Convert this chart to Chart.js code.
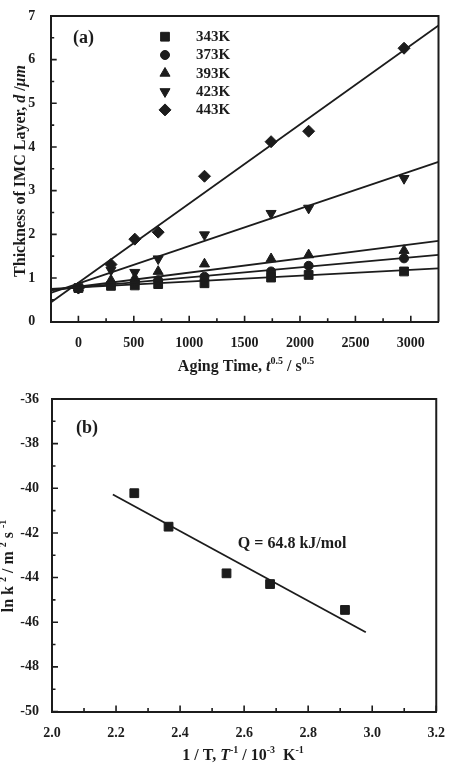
<!DOCTYPE html>
<html lang="en">
<head>
  <meta charset="UTF-8" />
  <title>IMC Layer Growth</title>
  <script src="https://cdn.jsdelivr.net/npm/chart.js"></script>
  <style>
    body {
      margin: 0;
      background: #fff;
    }
    .panel {
      position: absolute;
      left: 0;
      width: 450px;
    }
    #panelA { top: 0; height: 380px; }
    #panelB { top: 380px; height: 384px; }
  </style>
</head>
<body>
  <div class="panel" id="panelA"><canvas id="chartA" width="450" height="380"></canvas></div>
  <div class="panel" id="panelB"><canvas id="chartB" width="450" height="384"></canvas></div>

  <script>
    const INK = '#1c1c1c';
    const SERIF = '"Liberation Serif", "Times New Roman", serif';

    // (a) IMC thickness vs sqrt(aging time)
    const agingTime = [0, 294, 509, 720, 1138, 1739, 2078, 2939];
    const temps = ['343K', '373K', '393K', '423K', '443K'];
    const d343 = [0.77, 0.82, 0.83, 0.86, 0.88, 1.01, 1.07, 1.15];
    const d373 = [0.77, 0.85, 0.88, 0.95, 1.03, 1.15, 1.28, 1.45];
    const d393 = [0.77, 0.95, 1.00, 1.15, 1.32, 1.44, 1.53, 1.63];
    const d423 = [0.77, 1.18, 1.13, 1.44, 1.99, 2.48, 2.60, 3.28];
    const d443 = [0.77, 1.31, 1.89, 2.05, 3.33, 4.12, 4.36, 6.26];

    // fitted lines, read at both ends of the plot
    const fitX = [-250, 3250];
    const fit343 = [0.75, 1.22];
    const fit373 = [0.73, 1.53];
    const fit393 = [0.72, 1.85];
    const fit423 = [0.66, 3.66];
    const fit443 = [0.44, 6.78];

    const xTicksA = [0, 500, 1000, 1500, 2000, 2500, 3000];
    const xMinorA = [250, 750, 1250, 1750, 2250, 2750];
    const yTicksA = [0, 1, 2, 3, 4, 5, 6, 7];
    const yMinorA = [0.5, 1.5, 2.5, 3.5, 4.5, 5.5, 6.5];

    // (b) Arrhenius plot
    const invT = [2.257, 2.364, 2.545, 2.681, 2.915];
    const lnK = [-40.22, -41.72, -43.81, -44.29, -45.45];
    const fitBX = [2.19, 2.98];
    const fitBY = [-40.28, -46.45];

    const xTicksB = [2.0, 2.2, 2.4, 2.6, 2.8, 3.0, 3.2];
    const xMinorB = [2.1, 2.3, 2.5, 2.7, 2.9, 3.1];
    const yTicksB = [-50, -48, -46, -44, -42, -40, -38, -36];
    const yMinorB = [-49, -47, -45, -43, -41, -39, -37];

    const markers = [
      { style: 'rect', r: 6.2, rot: 0 },
      { style: 'circle', r: 4.5, rot: 0 },
      { style: 'triangle', r: 5.8, rot: 0 },
      { style: 'triangle', r: 5.8, rot: 180 },
      { style: 'rectRot', r: 6, rot: 0 }
    ];

    function toPoints(xs, ys) {
      return xs.map((x, i) => ({ x: x, y: ys[i] }));
    }

    function scatterSet(xs, ys, m) {
      return {
        data: toPoints(xs, ys),
        showLine: false,
        pointStyle: m.style,
        pointRadius: m.r,
        pointRotation: m.rot,
        backgroundColor: INK,
        borderColor: INK,
        borderWidth: 1
      };
    }

    function fitSet(xs, ys) {
      return {
        data: toPoints(xs, ys),
        showLine: true,
        pointRadius: 0,
        borderColor: INK,
        borderWidth: 1.8,
        fill: false
      };
    }

    function axis(min, max, ticks, fmt, pad, fit) {
      return {
        type: 'linear',
        min: min,
        max: max,
        grid: { display: false },
        border: { display: true, color: INK, width: 2 },
        afterBuildTicks: s => { s.ticks = ticks.map(v => ({ value: v })); },
        ticks: {
          color: INK,
          font: { family: SERIF, size: 14, weight: 'bold' },
          padding: pad,
          autoSkip: false,
          maxRotation: 0,
          callback: fmt
        },
        afterFit: fit
      };
    }

    // text with italic parts and superscripts, centred on (x, y)
    function rich(ctx, parts, x, y, size, angle) {
      ctx.save();
      ctx.translate(x, y);
      ctx.rotate(angle || 0);
      ctx.fillStyle = INK;
      ctx.textAlign = 'left';
      ctx.textBaseline = 'alphabetic';
      const fontOf = p => (p.i ? 'italic ' : '') + 'bold ' + (p.sup ? Math.round(size * 0.62) : size) + 'px ' + SERIF;
      let total = 0;
      parts.forEach(p => { ctx.font = fontOf(p); p.w = ctx.measureText(p.t).width; total += p.w; });
      let cx = -total / 2;
      parts.forEach(p => {
        ctx.font = fontOf(p);
        ctx.fillText(p.t, cx, p.sup ? -size * 0.42 : 0);
        cx += p.w;
      });
      ctx.restore();
    }

    // top/right frame and inward ticks
    const frame = {
      id: 'frame',
      afterDraw(chart, args, o) {
        const { ctx, chartArea: a } = chart;
        const x = chart.scales.x, y = chart.scales.y;
        ctx.save();
        ctx.strokeStyle = INK;
        ctx.lineWidth = 2;
        ctx.beginPath();
        ctx.moveTo(a.left, a.top);
        ctx.lineTo(a.right, a.top);
        ctx.lineTo(a.right, a.bottom);
        ctx.stroke();
        ctx.lineWidth = 1.6;
        ctx.beginPath();
        o.xMajor.forEach(v => { const p = x.getPixelForValue(v); ctx.moveTo(p, a.bottom); ctx.lineTo(p, a.bottom - 6); });
        o.xMinor.forEach(v => { const p = x.getPixelForValue(v); ctx.moveTo(p, a.bottom); ctx.lineTo(p, a.bottom - 3.5); });
        o.yMajor.forEach(v => { const p = y.getPixelForValue(v); ctx.moveTo(a.left, p); ctx.lineTo(a.left + 6, p); });
        o.yMinor.forEach(v => { const p = y.getPixelForValue(v); ctx.moveTo(a.left, p); ctx.lineTo(a.left + 3.5, p); });
        ctx.stroke();
        ctx.restore();
      }
    };

    function marker(ctx, m, px, py) {
      if (Chart.helpers && Chart.helpers.drawPoint) {
        Chart.helpers.drawPoint(ctx, { pointStyle: m.style, radius: m.r, rotation: m.rot, borderWidth: 1 }, px, py);
      }
    }

    const labelsA = {
      id: 'labelsA',
      afterDraw(chart) {
        const ctx = chart.ctx;
        ctx.save();
        ctx.fillStyle = INK;
        ctx.strokeStyle = INK;
        ctx.textBaseline = 'middle';
        ctx.textAlign = 'left';
        ctx.font = 'bold 18px ' + SERIF;
        ctx.fillText('(a)', 73, 38.5);
        ctx.font = 'bold 15px ' + SERIF;
        temps.forEach((t, i) => {
          const ry = 36.7 + i * 18.3;
          marker(ctx, markers[i], 165, ry);
          ctx.fillText(t, 196, ry + 0.5);
        });
        ctx.restore();
        rich(ctx, [{ t: 'Aging Time, ' }, { t: 't', i: 1 }, { t: '0.5', sup: 1 }, { t: ' / s' }, { t: '0.5', sup: 1 }], 246, 371, 16);
        rich(ctx, [{ t: 'Thickness of IMC Layer, ' }, { t: 'd', i: 1 }, { t: ' /' }, { t: 'μm', i: 1 }], 25, 171, 16, -Math.PI / 2);
      }
    };

    const labelsB = {
      id: 'labelsB',
      afterDraw(chart) {
        const ctx = chart.ctx;
        const x = chart.scales.x, y = chart.scales.y;
        ctx.save();
        ctx.fillStyle = INK;
        ctx.textBaseline = 'middle';
        ctx.textAlign = 'left';
        ctx.font = 'bold 18px ' + SERIF;
        ctx.fillText('(b)', 76, 48);
        ctx.textAlign = 'center';
        ctx.font = 'bold 16px ' + SERIF;
        ctx.fillText('Q = 64.8 kJ/mol', x.getPixelForValue(2.75), y.getPixelForValue(-42.49));
        ctx.restore();
        rich(ctx, [{ t: '1 / T, ' }, { t: 'T', i: 1 }, { t: '-1', sup: 1 }, { t: ' / 10' }, { t: '-3', sup: 1 }, { t: '  K' }, { t: '-1', sup: 1 }], 243, 380, 16);
        rich(ctx, [{ t: 'ln k ' }, { t: '2', sup: 1 }, { t: ' / m ' }, { t: '2', sup: 1 }, { t: ' s ' }, { t: '-1', sup: 1 }], 13, 186, 16, -Math.PI / 2);
      }
    };

    const seriesA = [d343, d373, d393, d423, d443];
    const fitsA = [fit343, fit373, fit393, fit423, fit443];

    const chartA = new Chart(document.getElementById('chartA'), {
      type: 'scatter',
      data: {
        datasets: fitsA.map(f => fitSet(fitX, f)).concat(seriesA.map((s, i) => scatterSet(agingTime, s, markers[i])))
      },
      options: {
        responsive: false,
        animation: false,
        events: [],
        layout: { padding: { left: 0, top: 9.3, right: 11.5, bottom: 0 } },
        scales: {
          x: axis(-250, 3250, xTicksA, v => String(v), 5, s => { s.height = 58.3; }),
          y: axis(0, 7, yTicksA, v => String(v), 7.5, s => { s.width = 50.7; })
        },
        plugins: {
          legend: { display: false },
          tooltip: { enabled: false },
          frame: { xMajor: xTicksA, xMinor: xMinorA, yMajor: yTicksA, yMinor: yMinorA }
        }
      },
      plugins: [frame, labelsA]
    });

    const chartB = new Chart(document.getElementById('chartB'), {
      type: 'scatter',
      data: {
        datasets: [fitSet(fitBX, fitBY), scatterSet(invT, lnK, markers[0])]
      },
      options: {
        responsive: false,
        animation: false,
        events: [],
        layout: { padding: { left: 0, top: 19, right: 10.7, bottom: 0 } },
        scales: {
          x: axis(2.0, 3.2, xTicksB, v => v.toFixed(1), 5, s => { s.height = 52.5; }),
          y: axis(-50, -36, yTicksB, v => String(v), 5, s => { s.width = 52; })
        },
        plugins: {
          legend: { display: false },
          tooltip: { enabled: false },
          frame: { xMajor: xTicksB, xMinor: xMinorB, yMajor: yTicksB, yMinor: yMinorB }
        }
      },
      plugins: [frame, labelsB]
    });
  </script>
</body>
</html>
